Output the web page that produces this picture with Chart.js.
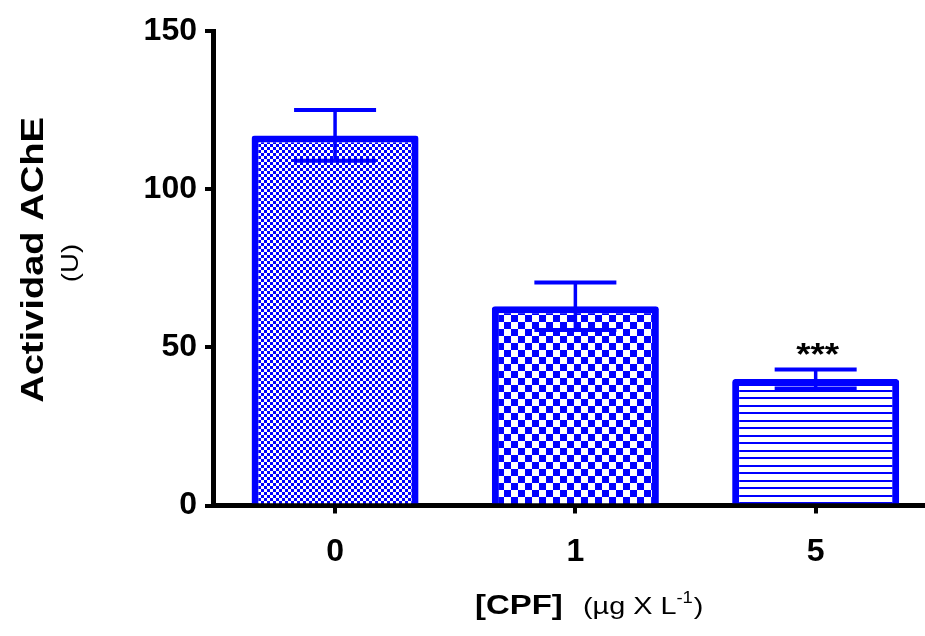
<!DOCTYPE html>
<html>
<head>
<meta charset="utf-8">
<script src="https://cdn.jsdelivr.net/npm/chart.js@4.4.1/dist/chart.umd.min.js"></script>
<style>
  html, body { margin: 0; padding: 0; background: #fff; }
  #wrap { width: 925px; height: 636px; position: relative; }
</style>
</head>
<body>
<div id="wrap"><canvas id="chart"></canvas></div>
<script>
const categories = ["0", "1", "5"];
const means = [117, 63, 40];
const errors = [8, 7.5, 3];
const marks = ["", "", "***"];
const yTicks = [0, 50, 100, 150];

const blue = "#0000ff";
const family = "'Liberation Sans', Arial, sans-serif";
const canvas = document.getElementById("chart");
const ctx0 = canvas.getContext("2d");

function makePattern(w, h, paint) {
  const c = document.createElement("canvas");
  c.width = w;
  c.height = h;
  const g = c.getContext("2d");
  g.fillStyle = "#fff";
  g.fillRect(0, 0, w, h);
  g.fillStyle = blue;
  paint(g);
  return ctx0.createPattern(c, "repeat");
}
const checker = (n) =>
  makePattern(2 * n, 2 * n, (g) => {
    g.fillRect(0, 0, n, n);
    g.fillRect(n, n, n, n);
  });
const fills = [
  checker(3),
  checker(7),
  makePattern(8, 15, (g) => {
    g.fillRect(0, 0, 8, 2);
    g.fillRect(0, 7, 8, 2);
  }),
];

// error bars + significance marks
const errorBars = {
  id: "errorBars",
  afterDatasetsDraw(chart) {
    const { ctx, scales: { x, y } } = chart;
    ctx.save();
    ctx.strokeStyle = blue;
    means.forEach((m, i) => {
      const px = x.getPixelForValue(i);
      const top = y.getPixelForValue(m + errors[i]);
      const bot = y.getPixelForValue(m - errors[i]);
      ctx.lineWidth = 3.5;
      ctx.beginPath();
      ctx.moveTo(px, top);
      ctx.lineTo(px, bot);
      ctx.stroke();
      ctx.lineWidth = 4;
      ctx.beginPath();
      ctx.moveTo(px - 41, top);
      ctx.lineTo(px + 41, top);
      ctx.moveTo(px - 41, bot);
      ctx.lineTo(px + 41, bot);
      ctx.stroke();
      if (marks[i]) {
        ctx.fillStyle = "#000";
        ctx.font = `bold 32px ${family}`;
        ctx.textAlign = "center";
        ctx.textBaseline = "alphabetic";
        drawText(ctx, marks[i], px + 2, top - 4, 1.15);
      }
    });
    ctx.restore();
  },
};

function drawText(ctx, text, x, y, sx) {
  ctx.save();
  ctx.translate(x, y);
  ctx.scale(sx, 1);
  ctx.fillText(text, 0, 0);
  ctx.restore();
  return ctx.measureText(text).width * sx;
}

const titles = {
  id: "titles",
  afterDraw(chart) {
    const ctx = chart.ctx;
    ctx.save();
    ctx.fillStyle = "#000";
    ctx.textBaseline = "alphabetic";

    // y title
    ctx.save();
    ctx.translate(43, 260);
    ctx.rotate(-Math.PI / 2);
    ctx.textAlign = "center";
    ctx.font = `bold 32px ${family}`;
    drawText(ctx, "Actividad AChE", 0, 0, 1.19);
    ctx.restore();
    ctx.save();
    ctx.translate(78, 263);
    ctx.rotate(-Math.PI / 2);
    ctx.textAlign = "center";
    ctx.font = `24px ${family}`;
    drawText(ctx, "(U)", 0, 0, 1.15);
    ctx.restore();

    // x title
    ctx.textAlign = "left";
    ctx.font = `bold 27px ${family}`;
    drawText(ctx, "[CPF]", 475, 614, 1.22);
    let xp = 583;
    ctx.font = `24px ${family}`;
    xp += drawText(ctx, "(\u00b5g X L", xp, 614, 1.2);
    ctx.font = `16px ${family}`;
    xp += drawText(ctx, "-1", xp, 603, 1.15);
    ctx.font = `24px ${family}`;
    drawText(ctx, ")", xp + 1, 614, 1.2);
    ctx.restore();
  },
};

const tickFont = { family, size: 32, weight: "bold" };

new Chart(canvas, {
  type: "bar",
  data: {
    datasets: [
      {
        data: means.map((v, i) => ({ x: i, y: v })),
        backgroundColor: fills,
        borderColor: blue,
        borderWidth: 7,
        borderRadius: 3,
        barPercentage: 0.695,
        categoryPercentage: 1,
      },
    ],
  },
  options: {
    responsive: true,
    maintainAspectRatio: false,
    animation: false,
    layout: { padding: { top: 31, right: 0, bottom: 0, left: 0 } },
    plugins: { legend: { display: false }, tooltip: { enabled: false } },
    scales: {
      x: {
        type: "linear",
        offset: false,
        min: -0.508,
        max: 2.455,
        z: 1,
        afterBuildTicks: (s) => {
          s.ticks = categories.map((_, i) => ({ value: i }));
        },
        afterFit: (s) => {
          s.height = 130.5;
        },
        ticks: {
          callback: (v) => categories[v],
          font: tickFont,
          color: "#000",
          padding: 19,
          maxRotation: 0,
        },
        grid: { offset: false, drawOnChartArea: false, color: "#000", lineWidth: 4, tickLength: 8 },
        border: { color: "#000", width: 5 },
      },
      y: {
        min: 0,
        max: 150,
        z: 1,
        afterBuildTicks: (s) => {
          s.ticks = yTicks.map((v) => ({ value: v }));
        },
        afterFit: (s) => {
          s.width = 213;
        },
        ticks: { font: tickFont, color: "#000", padding: 8 },
        grid: { drawOnChartArea: false, color: "#000", lineWidth: 4, tickLength: 8 },
        border: { color: "#000", width: 5 },
      },
    },
  },
  plugins: [errorBars, titles],
});
</script>
</body>
</html>
